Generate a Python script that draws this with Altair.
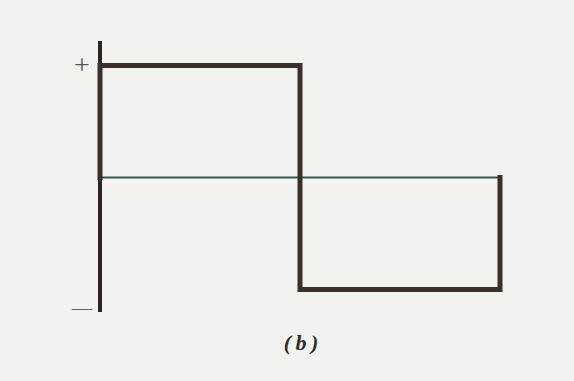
import altair as alt
import pandas as pd

# Square wave over two half-periods: +1 for the first, -1 for the second
wave_t = [0, 0, 1, 1, 2, 2]
wave_v = [0, 1, 1, -1, -1, 0]

# Zero (time) axis and vertical amplitude axis
zero_t = [0, 2.01]
zero_v = [0, 0]
vaxis_t = [0, 0]
vaxis_v = [-1.2, 1.22]

# Text labels
label_text = ["+", "\u2014", "(\u2009b\u2009)"]
label_t = [-0.09, -0.09, 1.005]
label_v = [1.0, -1.17, -1.478]

X_DOMAIN = [-0.5, 2.37]
Y_DOMAIN = [-1.817, 1.585]

wave = pd.DataFrame({"t": wave_t, "v": wave_v, "o": list(range(len(wave_t)))})
zero = pd.DataFrame({"t": zero_t, "v": zero_v, "o": [0, 1]})
vaxis = pd.DataFrame({"t": vaxis_t, "v": vaxis_v, "o": [0, 1]})
labels = pd.DataFrame({"text": label_text, "t": label_t, "v": label_v})

xs = alt.Scale(domain=X_DOMAIN, nice=False, zero=False)
ys = alt.Scale(domain=Y_DOMAIN, nice=False, zero=False)
X = alt.X("t:Q", scale=xs, axis=None)
Y = alt.Y("v:Q", scale=ys, axis=None)

zero_line = alt.Chart(zero).mark_line(color="#3a5650", strokeWidth=2.2).encode(
    x=X, y=Y, order="o:Q")

axis_line = alt.Chart(vaxis).mark_line(color="#2a2624", strokeWidth=4).encode(
    x=X, y=Y, order="o:Q")

wave_line = alt.Chart(wave).mark_line(
    color="#3b2f2a", strokeWidth=5, strokeJoin="miter", strokeCap="square"
).encode(x=X, y=Y, order="o:Q")

plus = alt.Chart(labels.iloc[[0]]).mark_text(
    font="Liberation Serif", fontSize=28, color="#555", baseline="middle", align="center"
).encode(x=X, y=Y, text="text:N")

minus = alt.Chart(labels.iloc[[1]]).mark_text(
    font="Liberation Serif", fontSize=20, color="#5a6260", baseline="middle", align="center"
).encode(x=X, y=Y, text="text:N")

caption = alt.Chart(labels.iloc[[2]]).mark_text(
    font="Liberation Serif", fontSize=22, fontStyle="italic", fontWeight="bold",
    color="#2e2e2e", baseline="middle", align="center"
).encode(x=X, y=Y, text="text:N")

chart = alt.layer(zero_line, axis_line, wave_line, plus, minus, caption).properties(
    width=574, height=381, padding=0, autosize=alt.AutoSizeParams(type="none"),
    background="#f2f2ef"
).configure_view(stroke=None)

chart.save("out.html", embed_options={"renderer": "svg", "actions": False})
